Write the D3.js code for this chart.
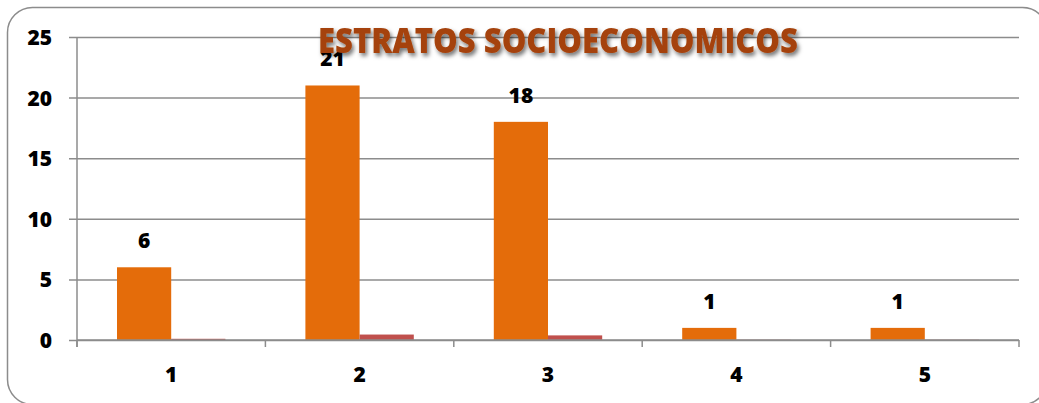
<!DOCTYPE html>
<html>
<head>
<meta charset="utf-8">
<script src="https://cdn.jsdelivr.net/npm/d3@7/dist/d3.min.js"></script>
<style>
  html, body { margin: 0; padding: 0; background: #fff; }
  svg { display: block; }
  text { font-family: "Open Sans", Lato, "Liberation Sans", sans-serif; font-weight: 700; }
</style>
</head>
<body>
<svg id="chart" width="1039" height="403"></svg>
<script>
// Estratos socioeconómicos: conteo y proporción por estrato
const categories = ["1", "2", "3", "4", "5"];
const conteo = [6, 21, 18, 1, 1];
const proporcion = [0.1, 0.45, 0.38, 0.02, 0.02];
const yTicks = [0, 5, 10, 15, 20, 25];
const title = "ESTRATOS SOCIOECONOMICOS";

const svg = d3.select("#chart");
const W = 1039, H = 403;
const margin = { left: 77, right: 20, top: 37, bottom: 63 };
const plotW = W - margin.left - margin.right;
const plotH = H - margin.top - margin.bottom;

const defs = svg.append("defs");
const shadow = defs.append("filter").attr("id", "titleShadow")
  .attr("x", "-5%").attr("y", "-30%").attr("width", "110%").attr("height", "160%");
shadow.append("feDropShadow")
  .attr("dx", 2).attr("dy", 3).attr("stdDeviation", 2)
  .attr("flood-color", "#000").attr("flood-opacity", 0.55);

// chart frame
svg.append("rect")
  .attr("x", 7.5).attr("y", 7.5)
  .attr("width", 1040).attr("height", 397)
  .attr("rx", 25).attr("ry", 25)
  .attr("fill", "#fff").attr("stroke", "#8c8c8c").attr("stroke-width", 1.5);

const g = svg.append("g").attr("transform", `translate(${margin.left},${margin.top})`);

const x = d3.scaleBand().domain(categories).range([0, plotW]).paddingInner(0).paddingOuter(0);
const y = d3.scaleLinear().domain([0, 25]).range([plotH, 0]);

const gap = 40 / 188.4;           // space at each side of a bar group, as share of band
const groupW = x.bandwidth() * (1 - 2 * gap);
const barW = groupW / 2;

// horizontal gridlines and left ticks
const yAxis = d3.axisLeft(y).tickValues(yTicks).tickSize(-plotW - 8).tickPadding(18);
const ya = g.append("g").attr("transform", "translate(-8,0)").call(yAxis);
ya.select(".domain").remove();
ya.selectAll(".tick line")
  .attr("stroke", "#8c8c8c").attr("stroke-width", 1.5);
ya.selectAll(".tick text")
  .attr("x", -17).attr("dy", "0.36em")
  .attr("fill", "#000").style("font-size", "21px").style("font-weight", 800);

// vertical axis line
g.append("line")
  .attr("x1", 0).attr("x2", 0).attr("y1", 0).attr("y2", plotH + 7)
  .attr("stroke", "#8c8c8c").attr("stroke-width", 1.5);

// bars: conteo
g.selectAll(".bar-conteo").data(conteo).enter().append("rect")
  .attr("class", "bar-conteo")
  .attr("x", (d, i) => x(categories[i]) + x.bandwidth() * gap)
  .attr("y", d => y(d))
  .attr("width", barW)
  .attr("height", d => y(0) - y(d))
  .attr("fill", "#E46C0A");

// bars: proporción
g.selectAll(".bar-prop").data(proporcion).enter().append("rect")
  .attr("class", "bar-prop")
  .attr("x", (d, i) => x(categories[i]) + x.bandwidth() * gap + barW)
  .attr("y", d => y(d))
  .attr("width", barW)
  .attr("height", d => y(0) - y(d))
  .attr("fill", "#C0504D");

// x axis line and ticks at category boundaries
g.append("line")
  .attr("x1", 0).attr("x2", plotW).attr("y1", plotH).attr("y2", plotH)
  .attr("stroke", "#8c8c8c").attr("stroke-width", 1.5);
const boundaries = categories.map(c => x(c)).concat([plotW]);
g.selectAll(".xtick").data(boundaries).enter().append("line")
  .attr("x1", d => d).attr("x2", d => d)
  .attr("y1", plotH).attr("y2", plotH + 7)
  .attr("stroke", "#8c8c8c").attr("stroke-width", 1.5);

// category labels
g.selectAll(".xlabel").data(categories).enter().append("text")
  .attr("x", d => x(d) + x.bandwidth() / 2)
  .attr("y", plotH + 42)
  .attr("text-anchor", "middle")
  .style("font-size", "21px").style("font-weight", 800)
  .attr("fill", "#000")
  .text(d => d);

// value labels above the conteo bars
g.selectAll(".vlabel").data(conteo).enter().append("text")
  .attr("x", (d, i) => x(categories[i]) + x.bandwidth() * gap + barW / 2)
  .attr("y", d => y(d) - 19)
  .attr("text-anchor", "middle")
  .style("font-size", "21px").style("font-weight", 800)
  .attr("fill", "#000")
  .text(d => d);

// title
svg.append("text")
  .attr("x", 558).attr("y", 53)
  .attr("text-anchor", "middle")
  .attr("textLength", 480).attr("lengthAdjust", "spacingAndGlyphs")
  .style("font-size", "35px").style("font-weight", 800)
  .attr("fill", "#A5420A")
  .attr("filter", "url(#titleShadow)")
  .text(title);
</script>
</body>
</html>
